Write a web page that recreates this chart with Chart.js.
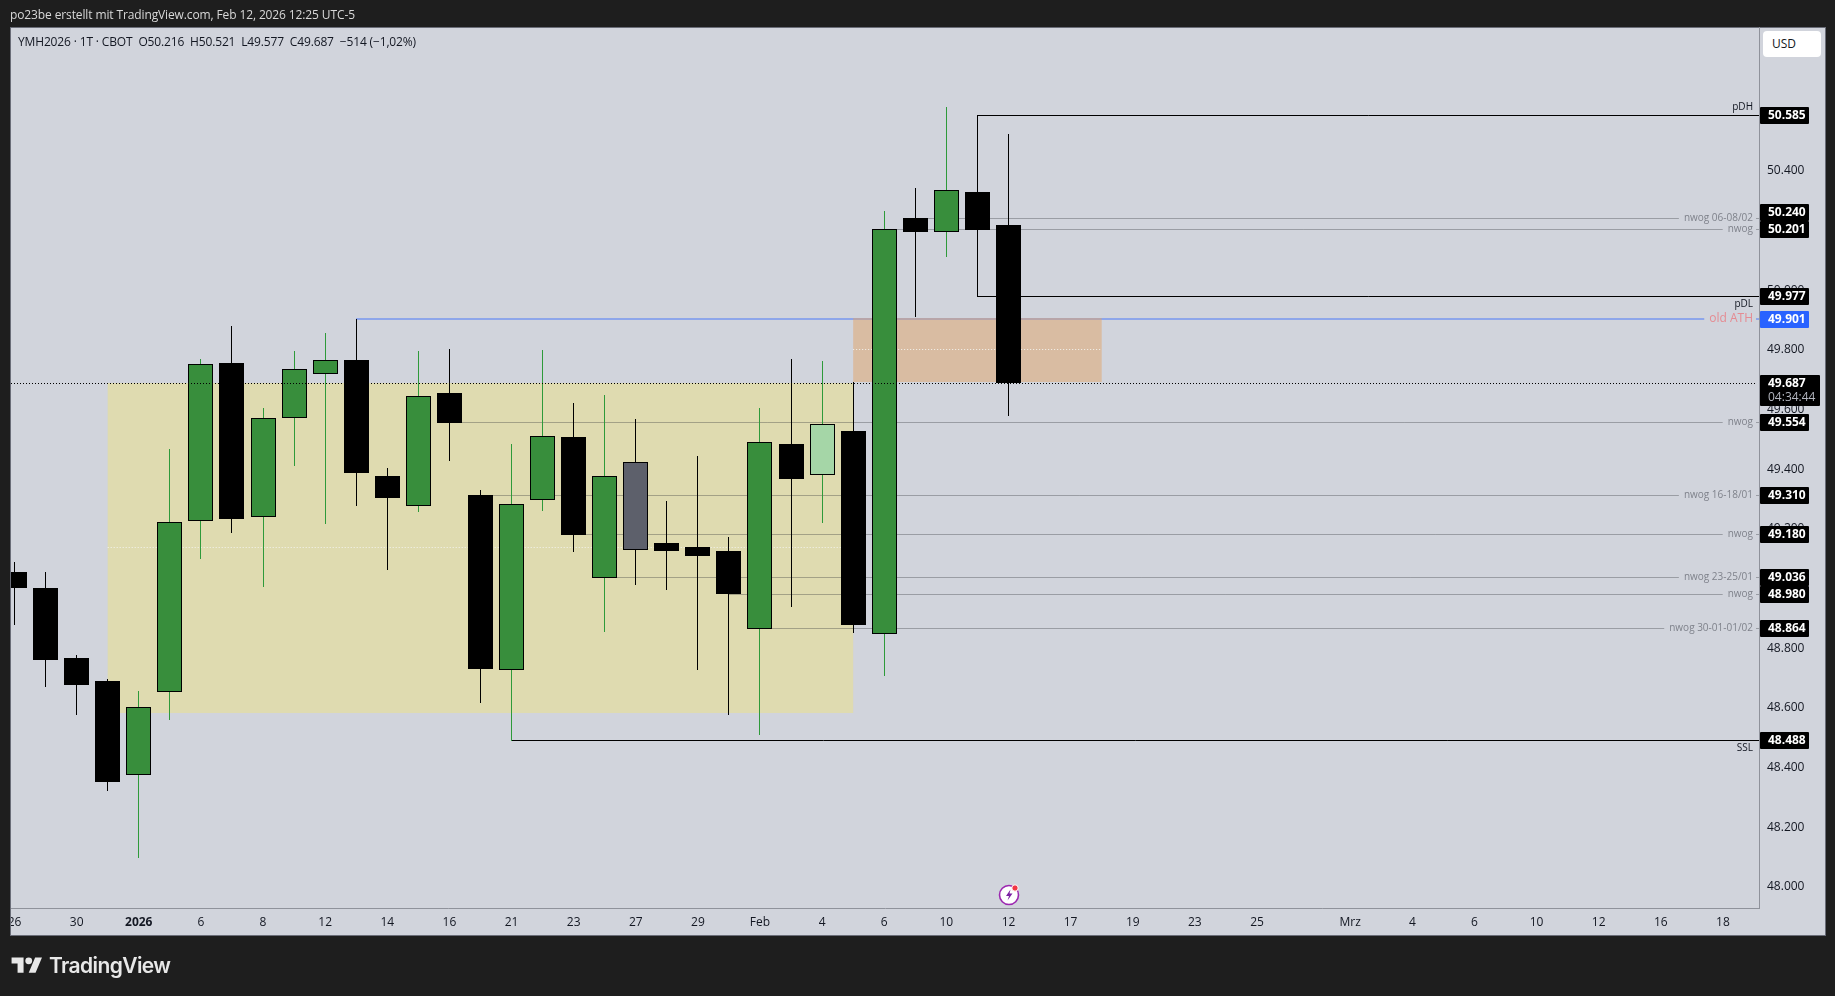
<!DOCTYPE html>
<html>
<head>
<meta charset="utf-8">
<title>YMH2026</title>
<script src="https://cdn.jsdelivr.net/npm/chart.js@4"></script>
<style>
  html, body { margin: 0; padding: 0; background: #1e1e1e; overflow: hidden; }
  #wrap { position: relative; width: 1835px; height: 996px; font-family: "Open Sans", sans-serif; }
  canvas { position: absolute; left: 0; top: 0; }
  .txt { position: absolute; white-space: pre; font-size: 12px; line-height: 16px; }
  #creator { left: 10px; top: 7px; color: #d8d8d8; letter-spacing: -0.12px; }
  #legend { left: 18px; top: 34px; color: #131722; letter-spacing: -0.15px; }
  #usd { left: 1763px; top: 31px; width: 58px; height: 26px; line-height: 26px; background: #fff; border-radius: 4px; color: #131722; text-indent: 9px; box-sizing: border-box; }
  #brand { left: 49px; top: 952px; font: 600 21px/28px Inter, sans-serif; color: #e8e8e8; letter-spacing: -0.6px; }
  #logo { position: absolute; left: 11px; top: 954px; }
  #bolt { position: absolute; left: 998px; top: 882px; }
</style>
</head>
<body>
<div id="wrap">
  <canvas id="chart" width="1835" height="996"></canvas>
  <div class="txt" id="creator">po23be erstellt mit TradingView.com, Feb 12, 2026 12:25 UTC-5</div>
  <div class="txt" id="legend">YMH2026 · 1T · CBOT  O50.216  H50.521  L49.577  C49.687  −514 (−1,02%)</div>
  <div class="txt" id="usd">USD</div>
  <svg id="logo" width="32" height="24" viewBox="0 0 36 28"><path fill="#e8e8e8" d="M14 22H7V11H0V4h14v18zM28 22h-8l7.5-18h8L28 22z"/><circle fill="#e8e8e8" cx="20" cy="8" r="4"/></svg>
  <div class="txt" id="brand">TradingView</div>
  <svg id="bolt" width="24" height="24" viewBox="0 0 24 24">
    <circle cx="11" cy="13" r="9.5" fill="#fff" stroke="#9c27b0" stroke-width="1.6"/>
    <path d="M12.5 7.5 L8 14 H11 L9.5 18.5 L14.5 11.5 H11.5 Z" fill="#7b1fa2"/>
    <circle cx="17" cy="6" r="3.2" fill="#f23645" stroke="#fff" stroke-width="1"/>
  </svg>
</div>
<script>
const candleIndex = [0,1,2,3,4,5,6,7,8,9,10,11,12,13,14,15,16,17,18,19,20,21,22,23,24,25,26,27,28,29,30,31,32];
const opens  = [49.054,49.001,48.766,48.689,48.375,48.653,49.226,49.754,49.240,49.569,49.719,49.765,49.376,49.276,49.654,49.312,48.726,49.296,49.507,49.035,49.422,49.151,49.138,49.124,48.864,49.483,49.380,49.527,48.847,50.241,50.195,50.328,50.216];
const highs  = [49.087,49.054,48.775,48.696,48.655,49.466,49.768,49.879,49.604,49.795,49.855,49.901,49.402,49.795,49.802,49.329,49.483,49.798,49.621,49.647,49.567,49.292,49.443,49.171,49.604,49.768,49.761,49.691,50.264,50.341,50.613,50.585,50.521];
const lows   = [48.876,48.668,48.575,48.319,48.096,48.559,49.098,49.185,49.004,49.409,49.215,49.275,49.061,49.255,49.426,48.615,48.488,49.258,49.121,48.853,49.010,48.994,48.725,48.575,48.508,48.937,49.218,48.850,48.705,49.909,50.110,49.977,49.577];
const closes = [49.001,48.759,48.675,48.351,48.601,49.221,49.751,49.233,49.570,49.735,49.765,49.386,49.302,49.644,49.553,48.729,49.282,49.509,49.178,49.376,49.129,49.124,49.108,48.980,49.489,49.366,49.549,48.876,50.203,50.194,50.335,50.200,49.687];
// g green, b black, l light green highlight, s grey highlight
const candleKinds = "bbbbgggbgggbbgbbggbgsbbbgblbgbgbb".split("");

const xTickIndex  = [0,2,4,6,8,10,12,14,16,18,20,22,24,26,28,30,32,34,36,38,40,43,45,47,49,51,53,55];
const xTickLabels = ["26","30","2026","6","8","12","14","16","21","23","27","29","Feb","4","6","10","12","17","19","23","25","Mrz","4","6","10","12","16","18"];
const yTicks = [48.0,48.2,48.4,48.6,48.8,49.0,49.2,49.4,49.6,49.8,50.0,50.2,50.4];

const lineLevels = [50.585,50.240,50.201,49.977,49.901,49.554,49.310,49.180,49.036,48.980,48.864,48.488];
const lineStarts = [31,29,28,31,11,14,15,18,19,23,24,16];
const lineLabels = ["pDH","nwog 06-08/02","nwog","pDL","old ATH","nwog","nwog 16-18/01","nwog","nwog 23-25/01","nwog","nwog 30-01-01/02","SSL"];
const lineKinds  = ["above","grey","grey","below","blue","grey","grey","grey","grey","grey","grey","below"];

const zoneTop    = [49.687,49.905];
const zoneBottom = [48.582,49.690];
const zoneMid    = [49.135,49.800];
const zoneStart  = [3,27];
const zoneEnd    = [27,35];
const zoneColors = ["rgba(231,224,146,0.6)","rgba(226,163,103,0.5)"];

const lastPrice = 49.687;
const countdown = "04:34:44";
const yMin = 47.928, yMax = 50.881;
const xMin = -0.1127, xMax = 56.161;

const GREEN = "#388e3c", BLACK = "#000000", LIGHT = "#a5d6a7", GREY = "#5d606b";
const bodyFill = { g: GREEN, b: BLACK, l: LIGHT, s: GREY };
const wickFill = { g: "#2e9a3a", b: BLACK, l: "#2e9a3a", s: BLACK };
const FONT = '"Open Sans", sans-serif';

const wicks = candleIndex.map(i => ({ x: i, y: [lows[i], highs[i]] }));
const bodies = candleIndex.map(i => ({ x: i, y: [opens[i], closes[i]] }));

function drawLabelledLine(chart, i, blue) {
  const c = chart.ctx, area = chart.chartArea;
  const sx = chart.scales.x.getPixelForValue(lineStarts[i]);
  const ly = chart.scales.y.getPixelForValue(lineLevels[i]);
  const py = blue ? Math.round(ly) : Math.floor(ly) + 0.5;
  c.font = (blue ? "12px " : "10px ") + FONT;
  const w = c.measureText(lineLabels[i]).width;
  c.strokeStyle = blue ? "#8ea6ea" : "rgba(37,40,47,0.32)";
  c.lineWidth = blue ? 2 : 1;
  c.beginPath();
  c.moveTo(sx, py);
  c.lineTo(area.right - 6 - w - 5, py);
  c.moveTo(area.right - 3, py);
  c.lineTo(area.right, py);
  c.stroke();
  c.fillStyle = blue ? "#e58b92" : "#7f828b";
  c.fillText(lineLabels[i], area.right - 6, py);
}

const tvLayers = {
  id: "tvLayers",
  beforeDraw(chart) {
    const c = chart.ctx;
    c.fillStyle = "#1e1e1e";
    c.fillRect(0, 0, 1835, 996);
    c.fillStyle = "#d1d4dc";
    c.fillRect(10, 27, 1815, 908);
    c.strokeStyle = "#6a6d78";
    c.lineWidth = 1;
    c.strokeRect(10.5, 27.5, 1815, 908);
  },
  beforeDatasetsDraw(chart) {
    const c = chart.ctx, x = chart.scales.x, y = chart.scales.y, area = chart.chartArea;

    // pixel-snap bars, the reference has crisp edges
    chart.data.datasets.forEach((ds, k) => {
      chart.getDatasetMeta(k).data.forEach(b => {
        b.x = Math.floor(b.x) + 0.5;
        b.y = Math.round(b.y);
        b.base = Math.round(b.base);
      });
    });

    c.save();
    c.beginPath();
    c.rect(area.left, area.top, area.width, area.height);
    c.clip();
    c.textAlign = "right";
    c.textBaseline = "middle";

    // old ATH sits under the zones
    lineKinds.forEach((k, i) => { if (k === "blue") drawLabelledLine(chart, i, true); });

    zoneTop.forEach((t, i) => {
      const l = x.getPixelForValue(zoneStart[i]), r = x.getPixelForValue(zoneEnd[i]);
      const a = Math.round(y.getPixelForValue(t)), b = Math.round(y.getPixelForValue(zoneBottom[i]));
      c.fillStyle = zoneColors[i];
      c.fillRect(l, a, r - l, b - a);
      const m = Math.floor(y.getPixelForValue(zoneMid[i])) + 0.5;
      c.strokeStyle = "#f4f4f0";
      c.lineWidth = 1;
      c.setLineDash([1, 2]);
      c.beginPath();
      c.moveTo(l, m);
      c.lineTo(r, m);
      c.stroke();
      c.setLineDash([]);
    });

    lineLevels.forEach((p, i) => {
      const kind = lineKinds[i];
      if (kind === "blue") return;
      if (kind === "grey") {
        drawLabelledLine(chart, i, false);
        return;
      }
      const py = Math.floor(y.getPixelForValue(p)) + 0.5;
      c.font = "10px " + FONT;
      c.strokeStyle = "#000";
      c.lineWidth = 1;
      c.beginPath();
      c.moveTo(x.getPixelForValue(lineStarts[i]), py);
      c.lineTo(area.right, py);
      c.stroke();
      c.fillStyle = "#131722";
      c.fillText(lineLabels[i], area.right - 6, py + (kind === "above" ? -8 : 8));
    });
    c.restore();
  },
  afterDatasetsDraw(chart) {
    const c = chart.ctx, y = chart.scales.y, area = chart.chartArea;
    const py = Math.floor(y.getPixelForValue(lastPrice)) + 0.5;
    c.save();
    c.strokeStyle = "#000";
    c.lineWidth = 1;
    c.setLineDash([1, 2]);
    c.beginPath();
    c.moveTo(area.left, py);
    c.lineTo(area.right - 2, py);
    c.stroke();
    c.restore();
  },
  afterDraw(chart) {
    const c = chart.ctx, y = chart.scales.y, area = chart.chartArea;
    c.fillStyle = "#1e1e1e";
    c.fillRect(0, 27, 10, 909);
    c.fillStyle = "#6a6d78";
    c.fillRect(10, 27, 1, 909);

    // tags push each other up when they would overlap, lowest first
    const left = area.right + 1;
    const tagY = lineLevels.map(p => Math.floor(y.getPixelForValue(p)));
    for (let i = tagY.length - 2; i >= 0; i--) {
      if (tagY[i + 1] - tagY[i] < 17) tagY[i] = tagY[i + 1] - 17;
    }
    c.textAlign = "left";
    c.textBaseline = "middle";
    lineLevels.forEach((p, i) => {
      c.fillStyle = lineKinds[i] === "blue" ? "#2962ff" : "#000";
      c.beginPath();
      c.roundRect(left, tagY[i] - 8, 49, 17, 1);
      c.fill();
      c.fillStyle = "#fff";
      c.font = "700 12px " + FONT;
      c.fillText(p.toFixed(3), left + 8, tagY[i] + 1);
    });

    const py = Math.floor(y.getPixelForValue(lastPrice));
    c.fillStyle = "#000";
    c.beginPath();
    c.roundRect(left, py - 8, 60, 31, 1);
    c.fill();
    c.fillStyle = "#fff";
    c.font = "700 12px " + FONT;
    c.fillText(lastPrice.toFixed(3), left + 8, py + 1);
    c.fillStyle = "#b2b5be";
    c.font = "12px " + FONT;
    c.fillText(countdown, left + 8, py + 15);
  }
};

new Chart(document.getElementById("chart"), {
  type: "bar",
  data: {
    datasets: [
      {
        data: wicks,
        order: 2,
        grouped: false,
        barThickness: 1,
        inflateAmount: 0,
        borderWidth: 0,
        backgroundColor: candleKinds.map(k => wickFill[k]),
      },
      {
        data: bodies,
        order: 1,
        grouped: false,
        barThickness: 25,
        inflateAmount: 0,
        borderSkipped: false,
        borderWidth: candleKinds.map(k => (k === "b" ? 0 : 1)),
        borderColor: "#000",
        backgroundColor: candleKinds.map(k => bodyFill[k]),
      },
    ],
  },
  options: {
    responsive: false,
    animation: false,
    devicePixelRatio: 1,
    layout: { autoPadding: false, padding: { left: 11, top: 27, right: 10, bottom: 61 } },
    plugins: { legend: { display: false }, tooltip: { enabled: false } },
    scales: {
      x: {
        type: "linear",
        offset: false,
        min: xMin,
        max: xMax,
        afterBuildTicks: s => { s.ticks = xTickIndex.map(v => ({ value: v })); },
        afterFit: s => { s.height = 27; },
        grid: { display: false, drawTicks: false },
        border: { color: "#8f929b" },
        ticks: {
          autoSkip: false,
          maxRotation: 0,
          padding: 7,
          color: "#131722",
          font: ctx => ({ family: FONT, size: 12, weight: ctx.tick && ctx.tick.value === 4 ? "bold" : "normal" }),
          callback: v => xTickLabels[xTickIndex.indexOf(v)],
        },
      },
      y: {
        position: "right",
        min: yMin,
        max: yMax,
        afterBuildTicks: s => { s.ticks = yTicks.map(v => ({ value: v })); },
        afterFit: s => { s.width = 66; },
        grid: { display: false, drawTicks: false },
        border: { color: "#8f929b" },
        ticks: {
          padding: 8,
          labelOffset: 0.5,
          color: "#131722",
          font: { family: FONT, size: 12 },
          callback: v => v.toFixed(3),
        },
      },
    },
  },
  plugins: [tvLayers],
});
</script>
</body>
</html>
